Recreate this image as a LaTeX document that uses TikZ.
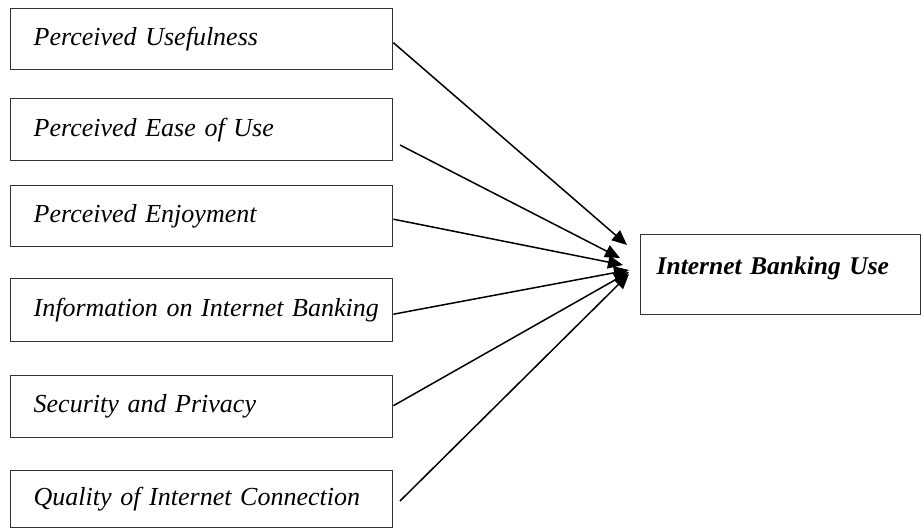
\documentclass[tikz,border=0pt]{standalone}
\usepackage{fontspec}
\setmainfont{Liberation Serif}
\usetikzlibrary{arrows.meta}
\begin{document}
\begin{tikzpicture}[x=1pt,y=-1pt,
  box/.style={draw=black!80, line width=1.4pt, rectangle, anchor=north west,
    minimum width=382pt, inner xsep=0pt, text width=382pt, align=left,
    execute at begin node={\hspace*{23pt}},
    font=\fontsize{26}{30}\selectfont\itshape},
  arr/.style={draw=black, line width=1.5pt, -{Triangle[length=15pt,width=13pt]}}]
\useasboundingbox (0,0) rectangle (921,528);
\fill[white] (0,0) rectangle (921,528);
\node[box, minimum height=61pt] (b1) at (10,8) {Perceived Usefulness};
\node[box, minimum height=62pt] (b2) at (10,98) {Perceived Ease of Use};
\node[box, minimum height=61pt] (b3) at (10,185) {Perceived Enjoyment};
\node[box, minimum height=63pt] (b4) at (10,278) {Information on Internet Banking};
\node[box, minimum height=62pt] (b5) at (10,375) {Security and Privacy};
\node[box, minimum height=57pt] (b6) at (10,470) {Quality of Internet Connection};
\node[draw=black!80, line width=1.4pt, rectangle, anchor=north west,
  minimum width=280pt, minimum height=80pt, inner xsep=16pt,
  text width=248pt, align=left, text height=18pt, text depth=18pt,
  font=\fontsize{25.5}{30}\selectfont\bfseries\itshape] (r) at (640,234) {Internet Banking Use};
\coordinate (s2) at (400,145);
\coordinate (s6) at (400,501);
\coordinate (t1) at (627,245);
\coordinate (t2) at (620,258);
\coordinate (t3) at (623,265);
\coordinate (t4) at (629,270);
\coordinate (t5) at (629,272);
\coordinate (t6) at (629,274);
\draw[arr] ([yshift=-3.5pt]b1.east) -- (t1);
\draw[arr] (s2) -- (t2);
\draw[arr] ([yshift=-3pt]b3.east) -- (t3);
\draw[arr] ([yshift=-4pt]b4.east) -- (t4);
\draw[arr] ([yshift=1pt]b5.east) -- (t5);
\draw[arr] (s6) -- (t6);
\end{tikzpicture}
\end{document}
